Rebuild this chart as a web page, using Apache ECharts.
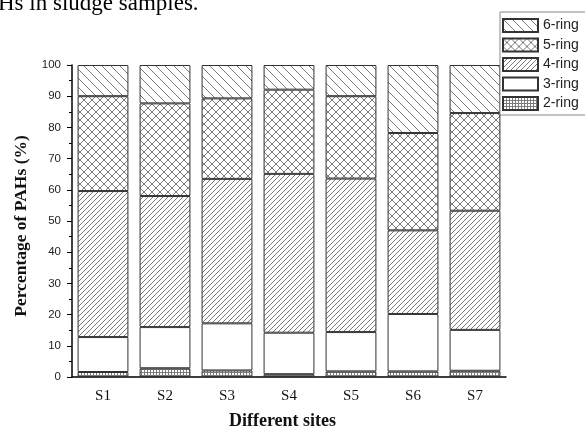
<!DOCTYPE html>
<html>
<head>
<meta charset="utf-8">
<script src="https://cdn.jsdelivr.net/npm/echarts@6/dist/echarts.min.js"></script>
<style>
html,body{margin:0;padding:0;background:#fff;}
#chart{width:585px;height:435px;}
</style>
</head>
<body>
<div id="chart"></div>
<script>
// ---- data ----
var sites = ['S1','S2','S3','S4','S5','S6','S7'];
var ring2 = [1.6, 2.8, 2.1, 0.9, 1.8, 1.8, 2.0];
var ring3 = [11.2, 13.2, 15.1, 13.3, 12.6, 18.4, 13.1];
var ring4 = [46.8, 42.0, 46.3, 50.9, 49.2, 26.8, 38.2];
var ring5 = [30.4, 29.7, 25.8, 27.0, 26.4, 31.2, 31.3];
var ring6 = [10.0, 12.3, 10.7, 7.9, 10.0, 21.8, 15.4];
var legendNames = ['6-ring','5-ring','4-ring','3-ring','2-ring'];
var yTicks = [0,10,20,30,40,50,60,70,80,90,100];

// ---- patterns ----
function pattern(kind){
  var s = {back:9, cross:8, fwd:5, grid:3}[kind];
  var c = document.createElement('canvas');
  c.width = s; c.height = s;
  var g = c.getContext('2d');
  g.fillStyle = '#fff'; g.fillRect(0,0,s,s);
  g.strokeStyle = '#7a7a7a'; g.lineWidth = 1;
  g.beginPath();
  if (kind === 'back' || kind === 'cross') {
    for (var k=-s;k<=s;k+=s){ g.moveTo(k,0); g.lineTo(k+s,s); }
  }
  if (kind === 'fwd' || kind === 'cross') {
    for (var k2=-s;k2<=s;k2+=s){ g.moveTo(k2+s,0); g.lineTo(k2,s); }
  }
  if (kind === 'grid') {
    g.moveTo(0,0.5); g.lineTo(s,0.5);
    g.moveTo(0.5,0); g.lineTo(0.5,s);
  }
  g.stroke();
  return {image:c, repeat:'repeat'};
}

var chart = echarts.init(document.getElementById('chart'), null, {renderer:'canvas'});
function ser(name, data, color){
  return {
    name:name, type:'bar', stack:'all', data:data,
    barCategoryGap:'18%', xAxisIndex:0,
    itemStyle:{color:color, borderColor:'#333', borderWidth:1},
    emphasis:{disabled:true}
  };
}
var option = {
  animation:false,
  backgroundColor:'#fff',
  graphic:[{
    type:'text', left:-2, top:-8,
    style:{text:'Hs in sludge samples.', font:'23px "Liberation Serif"', fill:'#000'}
  }],
  legend:{
    data:legendNames, orient:'vertical', left:500, top:12,
    icon:'rect',
    itemWidth:35, itemHeight:13, itemGap:4.5,
    padding:[6,10,4,2],
    backgroundColor:'#fff', borderColor:'#888', borderWidth:1,
    textStyle:{fontFamily:'Liberation Sans', fontSize:14, color:'#222'},
    selectedMode:false
  },
  grid:{left:72, right:79, top:65, bottom:53},
  xAxis:[{
    type:'category', data:sites,
    axisLine:{lineStyle:{color:'#000', width:1.5}},
    axisTick:{alignWithLabel:true, length:5, lineStyle:{color:'#000'}},
    axisLabel:{fontFamily:'Liberation Serif', fontSize:15, color:'#111', margin:12},
    name:'Different sites', nameLocation:'middle', nameGap:35,
    nameTextStyle:{fontFamily:'Liberation Serif', fontWeight:'bold', fontSize:18, color:'#111', padding:[0,13,0,0]}
  },{
    type:'category', data:sites, position:'bottom',
    axisLine:{show:false},
    axisTick:{length:3, lineStyle:{color:'#000'}},
    axisLabel:{show:false}
  }],
  yAxis:{
    type:'value', min:0, max:100, interval:10,
    axisLine:{show:true, lineStyle:{color:'#000', width:1.5}},
    axisTick:{show:true, length:5, lineStyle:{color:'#000'}},
    minorTick:{show:true, splitNumber:2, length:3, lineStyle:{color:'#000'}},
    splitLine:{show:false},
    axisLabel:{fontFamily:'Liberation Sans', fontSize:11.5, color:'#222', margin:11,
      formatter:function(v){ return yTicks.indexOf(v) >= 0 ? String(v) : ''; }},
    name:'Percentage of PAHs (%)', nameLocation:'middle', nameGap:37,
    nameTextStyle:{fontFamily:'Liberation Serif', fontWeight:'bold', fontSize:17.5, color:'#111', padding:[0,10,0,0]}
  },
  series:[
    ser('2-ring', ring2, pattern('grid')),
    ser('3-ring', ring3, '#fff'),
    ser('4-ring', ring4, pattern('fwd')),
    ser('5-ring', ring5, pattern('cross')),
    ser('6-ring', ring6, pattern('back'))
  ]
};
chart.setOption(option);
</script>
</body>
</html>
